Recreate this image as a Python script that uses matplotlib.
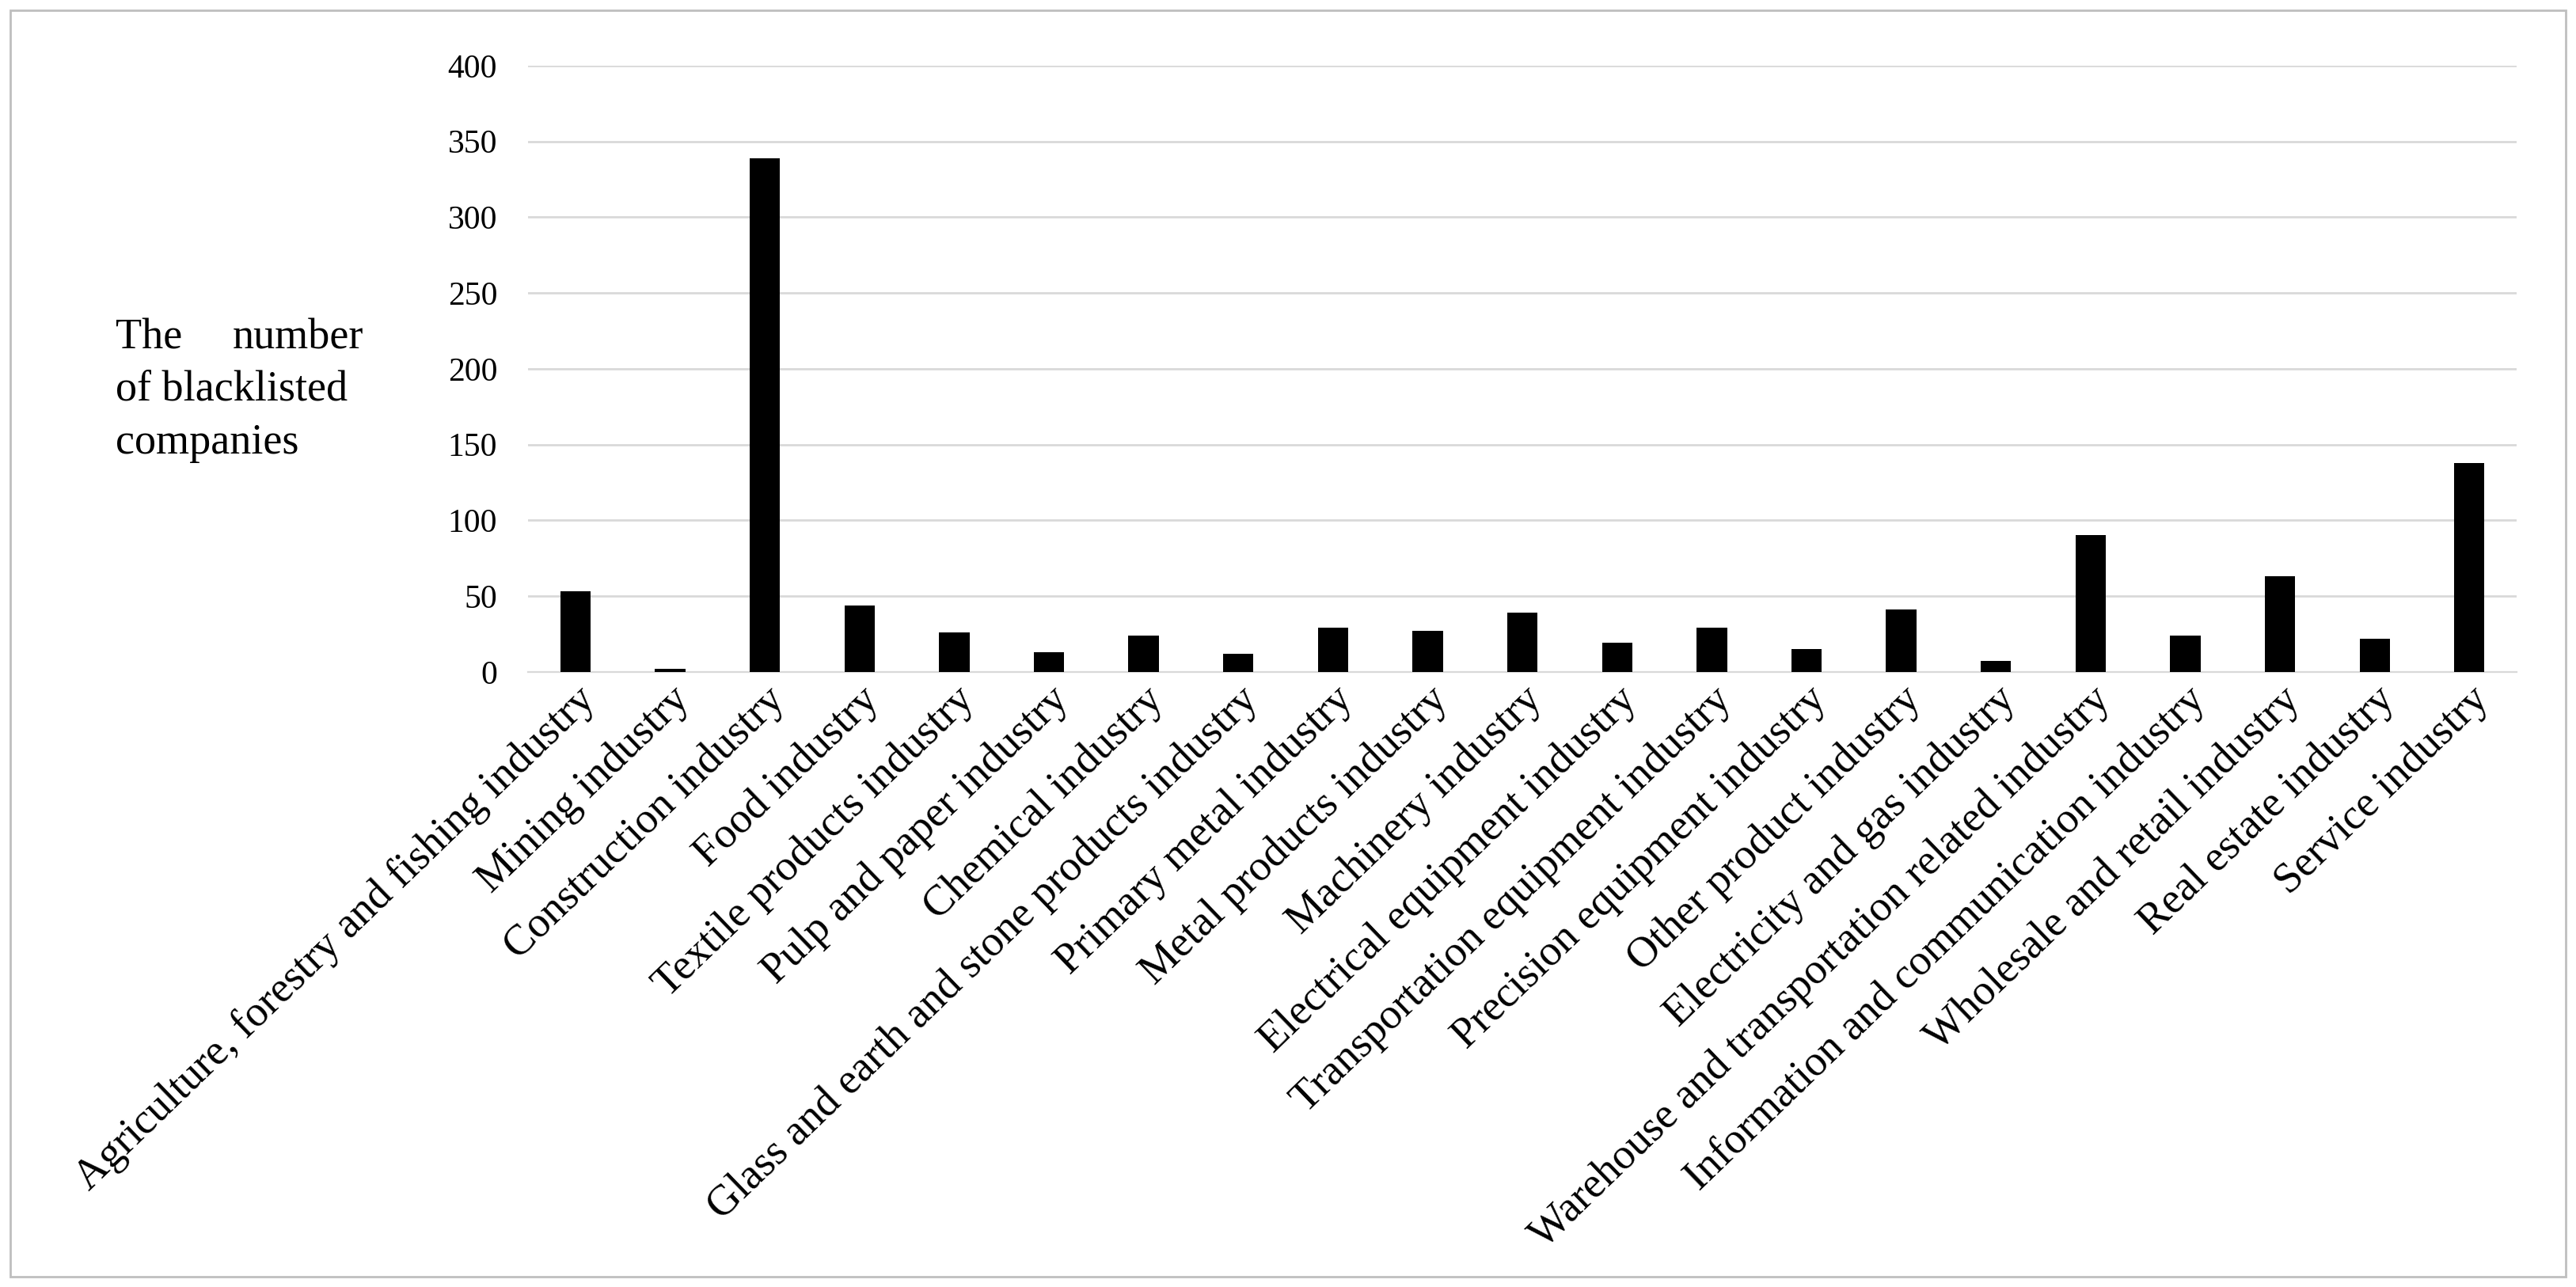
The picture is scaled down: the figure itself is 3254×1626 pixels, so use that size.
import matplotlib
matplotlib.use("Agg")
import matplotlib.pyplot as plt
from matplotlib.patches import Rectangle

categories = ["Agriculture, forestry and fishing industry","Mining industry","Construction industry",
"Food industry","Textile products industry","Pulp and paper industry","Chemical industry",
"Glass and earth and stone products industry","Primary metal industry","Metal products industry",
"Machinery industry","Electrical equipment industry","Transportation equipment industry",
"Precision equipment industry","Other product industry","Electricity and gas industry",
"Warehouse and transportation related industry","Information and communication industry",
"Wholesale and retail industry","Real estate industry","Service industry"]
values = [53, 2, 339, 44, 26, 13, 24, 12, 29, 27, 39, 19, 29, 15, 41, 7, 90, 24, 63, 22, 138]
yticks = [0, 50, 100, 150, 200, 250, 300, 350, 400]

plt.rcParams['font.family'] = ['Liberation Serif', 'DejaVu Serif']
fig = plt.figure(figsize=(16.27, 8.13), dpi=200)
ax = fig.add_axes([0.205, 0.478, 0.772, 0.471])
x = range(len(categories))
ax.bar(x, values, width=0.32, color='black', zorder=3)
ax.set_ylim(0, 400)
ax.set_xlim(-0.5, len(categories) - 0.5)
ax.set_yticks(yticks)
ax.yaxis.grid(True, color='#d9d9d9', linewidth=1.0, zorder=0)
for s in ['top', 'right', 'left']:
    ax.spines[s].set_visible(False)
ax.spines['bottom'].set_color('#d9d9d9')
ax.tick_params(axis='both', length=0)
ax.tick_params(axis='y', pad=14, labelsize=15)
ax.set_xticks(list(x))
ax.set_xticklabels(categories, rotation=44, ha='right', rotation_mode='anchor', fontsize=19.5)

fs = 19.5
fig.text(0.045, 0.737, "The", fontsize=fs, ha='left', va='center')
fig.text(0.141, 0.737, "number", fontsize=fs, ha='right', va='center')
fig.text(0.045, 0.697, "of blacklisted", fontsize=fs, ha='left', va='center')
fig.text(0.045, 0.656, "companies", fontsize=fs, ha='left', va='center')

fig.patches.append(Rectangle((0.004, 0.008), 0.992, 0.984, transform=fig.transFigure,
                             fill=False, edgecolor='#bfbfbf', linewidth=1.0))
fig.savefig("out.png", dpi=200)
